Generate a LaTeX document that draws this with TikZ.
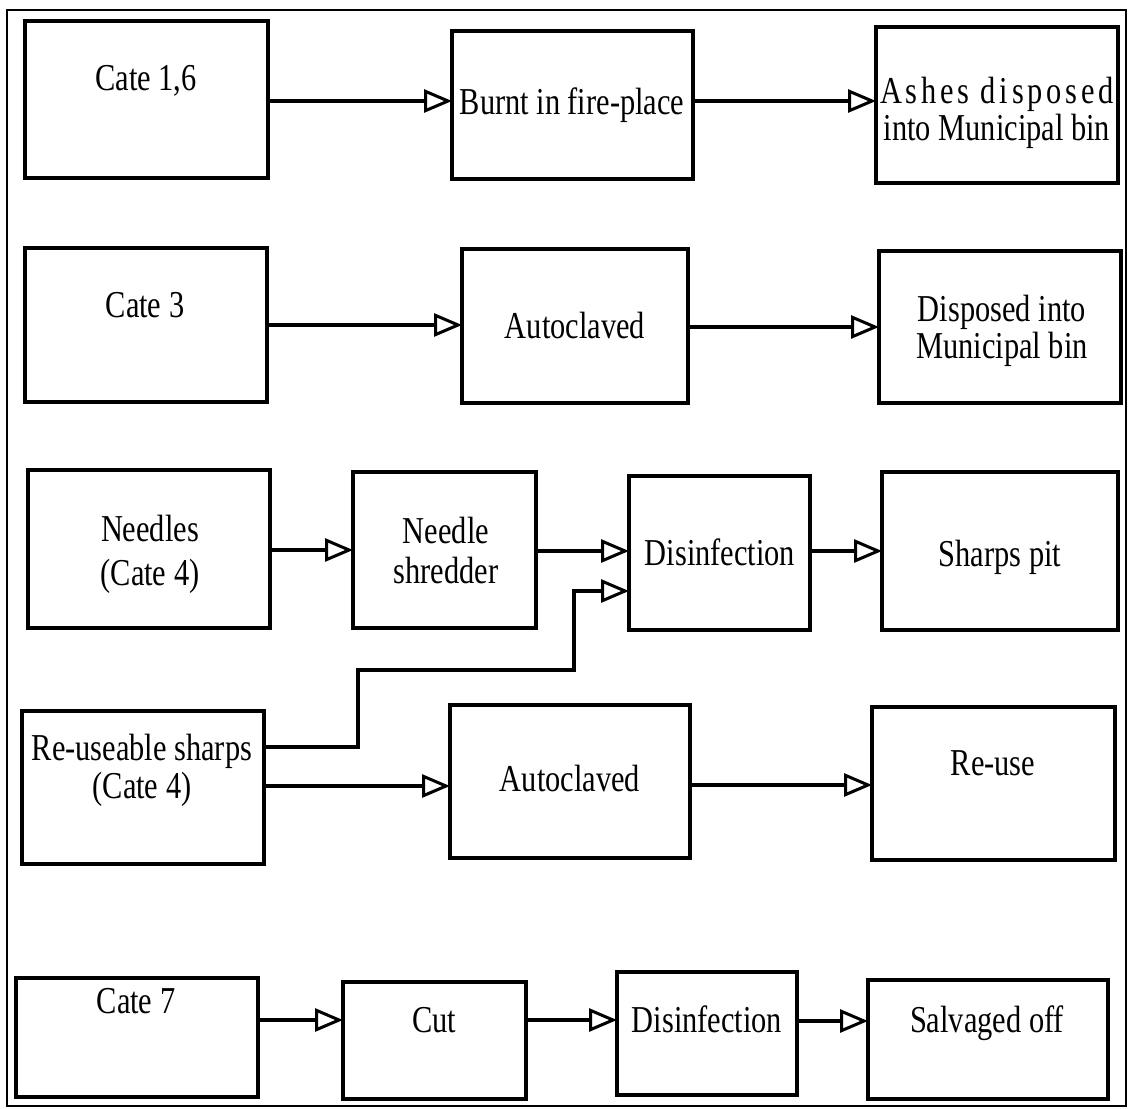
\documentclass[tikz,border=0pt]{standalone}
\usepackage{fontspec}
\setmainfont{Liberation Serif}[FakeStretch=0.8]
\usetikzlibrary{arrows.meta}
% box from (x1,y1) to (x2,y2), y measured downwards
\newcommand\flowbox[5]{%
  \node[stepbox, minimum width={#4-#2}, minimum height={#5-#3}]
    (#1) at ({(#2+#4)/2},{(#3+#5)/2}) {};}
% multi-line labels: anchor=base sits on the last line
\newcommand\lfont[1]{\fontsize{38}{#1}\selectfont\lineskiplimit=-100pt\relax}
\begin{document}
\begin{tikzpicture}[x=1pt,y=-1pt,
  stepbox/.style={draw, line width=4pt, inner sep=0pt, outer sep=0pt},
  lbl/.style={anchor=base, inner sep=0pt, align=center, font=\lfont{38}},
  flow/.style={line width=3.5pt,
    -{Triangle[open, fill=white, length=28pt, width=23pt, line width=3pt]}},
]
\fill[white] (0,0) rectangle (1128,1109);
\useasboundingbox (0,0) rectangle (1128,1109);
\draw[line width=2pt] (7,10) rectangle (1126,1106);

% row 1
\flowbox{c16}{25}{21}{268}{178}
\flowbox{burnt}{452}{31}{693}{179}
\flowbox{ashes}{876}{27}{1118}{183}
\node[lbl] (t-c16) at (146,90) {Cate 1,6};
\node[lbl] (t-burnt) at (572,114) {Burnt in fire-place};
\node[lbl, font=\lfont{37}] (t-ashes) at (997,140)
  {{\addfontfeature{LetterSpace=10}Ashes disposed}\\into Municipal bin};

% row 2
\flowbox{c3}{25}{248}{267}{402}
\flowbox{auto1}{462}{249}{688}{403}
\flowbox{disp}{879}{251}{1121}{403}
\node[lbl] (t-c3) at (145,317) {Cate 3};
\node[lbl] (t-auto1) at (575,338) {Autoclaved};
\node[lbl, font=\lfont{37}] (t-disp) at (1002,358) {Disposed into\\Municipal bin};

% row 3
\flowbox{needles}{28}{470}{270}{628}
\flowbox{shred}{353}{472}{536}{628}
\flowbox{dis1}{629}{476}{810}{630}
\flowbox{sharps}{882}{472}{1118}{630}
\node[lbl, font=\lfont{44}] (t-needles) at (150,585) {Needles\\(Cate 4)};
\node[lbl, font=\lfont{40}] (t-shred) at (446,583) {Needle\\shredder};
\node[lbl] (t-dis1) at (720,565) {Disinfection};
\node[lbl] (t-sharps) at (1000,566) {Sharps pit};

% row 4
\flowbox{reusable}{22}{711}{264}{864}
\flowbox{auto2}{450}{705}{690}{858}
\flowbox{reuse}{872}{707}{1115}{860}
\node[lbl] (t-reusable) at (142,798) {Re-useable sharps\\(Cate 4)};
\node[lbl] (t-auto2) at (570,791) {Autoclaved};
\node[lbl] (t-reuse) at (993,775) {Re-use};

% row 5
\flowbox{c7}{16}{978}{258}{1097}
\flowbox{cut}{343}{982}{526}{1099}
\flowbox{dis2}{617}{972}{797}{1095}
\flowbox{salv}{868}{980}{1108}{1099}
\node[lbl] (t-c7) at (136,1013) {Cate 7};
\node[lbl] (t-cut) at (434,1032) {Cut};
\node[lbl] (t-dis2) at (707,1032) {Disinfection};
\node[lbl] (t-salv) at (987,1032) {Salvaged off};

% connectors
\draw[flow] (c16.east |- 0,101) -- (burnt.west |- 0,101);
\draw[flow] (burnt.east |- 0,101) -- (ashes.west |- 0,101);
\draw[flow] (c3.east |- 0,325) -- (auto1.west |- 0,325);
\draw[flow] (auto1.east |- 0,327) -- (disp.west |- 0,327);
\draw[flow] (needles.east |- 0,550) -- (shred.west |- 0,550);
\draw[flow] (shred.east |- 0,551) -- (dis1.west |- 0,551);
\draw[flow] (dis1.east |- 0,551) -- (sharps.west |- 0,551);
\coordinate (j1) at (358,670);
\coordinate (j2) at (574,591);
\draw[flow] (reusable.east |- 0,747) -| (j1) -| (j2) -- (dis1.west |- j2);
\draw[flow] (reusable.east |- 0,786) -- (auto2.west |- 0,786);
\draw[flow] (auto2.east |- 0,785) -- (reuse.west |- 0,785);
\draw[flow] (c7.east |- 0,1020) -- (cut.west |- 0,1020);
\draw[flow] (cut.east |- 0,1020) -- (dis2.west |- 0,1020);
\draw[flow] (dis2.east |- 0,1021) -- (salv.west |- 0,1021);
\end{tikzpicture}
\end{document}
